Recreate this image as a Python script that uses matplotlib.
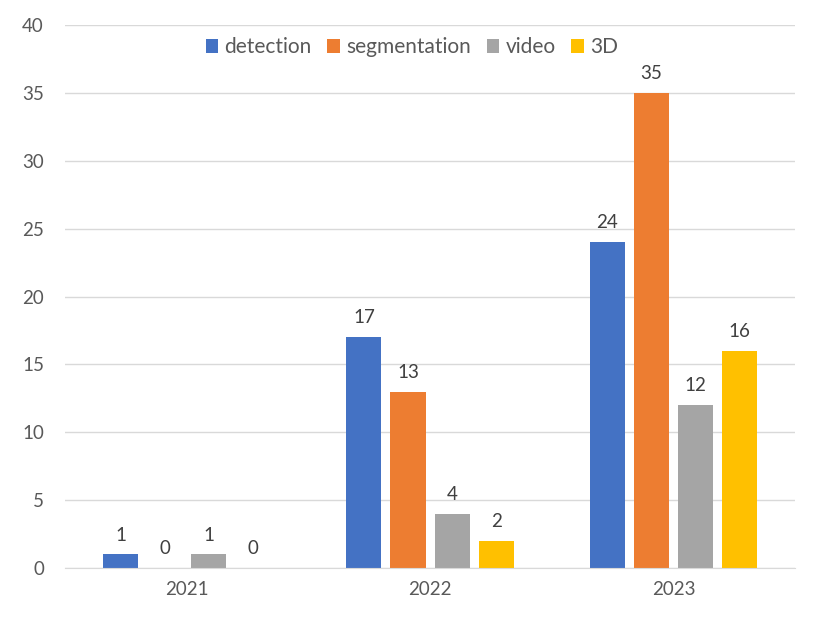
import matplotlib.pyplot as plt
import numpy as np

years = ["2021", "2022", "2023"]
series = ["detection", "segmentation", "video", "3D"]
detection = [1, 17, 24]
segmentation = [0, 13, 35]
video = [1, 4, 12]
threed = [0, 2, 16]
colors = ["#4472C4", "#ED7D31", "#A5A5A5", "#FFC000"]

plt.rcParams['font.family'] = ['Lato', 'DejaVu Sans']

fig = plt.figure(figsize=(8.31, 6.24), dpi=100)
ax = fig.add_axes([0.078, 0.0897, 0.879, 0.87])

x = np.arange(len(years))
w = 0.144
step = 0.181
offsets = [-1.5 * step, -0.5 * step, 0.5 * step, 1.5 * step]

for vals, name, col, off in zip([detection, segmentation, video, threed], series, colors, offsets):
    bars = ax.bar(x + off, vals, w, color=col, label=name, zorder=2)
    for b, v in zip(bars, vals):
        ax.text(b.get_x() + b.get_width() / 2, v + 0.8, str(v), ha="center", va="bottom",
                fontsize=13.5, color="#404040")

ax.set_xlim(-0.5, 2.5)
ax.set_ylim(0, 40)
ax.set_yticks(range(0, 41, 5))
ax.set_xticks(x)
ax.set_xticklabels(years)
ax.grid(axis="y", color="#D9D9D9", linewidth=1, zorder=0)
ax.tick_params(axis="both", length=0, labelsize=13.5, labelcolor="#595959")
ax.tick_params(axis="x", pad=9)
ax.tick_params(axis="y", pad=15)
for s in ["top", "right", "left"]:
    ax.spines[s].set_visible(False)
ax.spines["bottom"].set_color("#D9D9D9")

leg = ax.legend(loc="upper center", bbox_to_anchor=(0.475, 1.012), ncol=4, frameon=False,
                fontsize=15, handlelength=0.6, handleheight=0.6, handletextpad=0.3,
                columnspacing=0.75, labelcolor="#595959")

fig.savefig("out.png", dpi=100)
